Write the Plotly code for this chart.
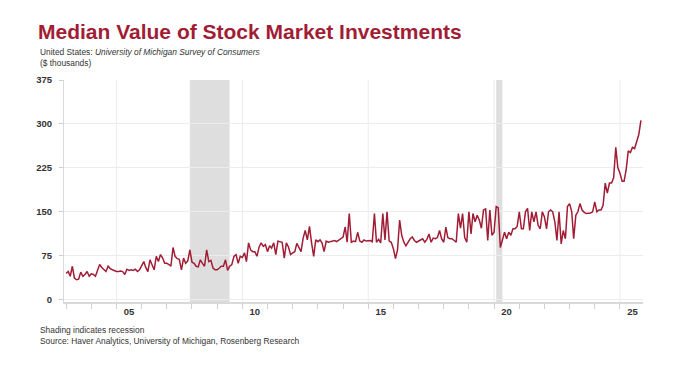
import plotly.graph_objects as go
import pandas as pd

# ---- data (monthly, $ thousands) ----
start_month = "2003-01-01"
v2003 = [45, 48, 40, 57, 37, 34, 35, 47, 40, 43, 48, 40]
v2004 = [44, 43, 40, 49, 60, 55, 51, 48, 57, 53, 51, 49]
v2005 = [48, 48, 49, 48, 43, 52, 50, 51, 50, 52, 48, 51]
v2006 = [57, 65, 55, 48, 68, 60, 51, 74, 65, 77, 71, 62]
v2007 = [62, 60, 57, 89, 74, 70, 69, 51, 71, 62, 66, 85]
v2008 = [64, 62, 57, 56, 68, 62, 57, 85, 65, 67, 54, 51]
v2009 = [51, 54, 57, 57, 68, 50, 57, 60, 74, 77, 62, 74]
v2010 = [72, 80, 65, 97, 85, 82, 82, 74, 90, 97, 91, 94]
v2011 = [82, 92, 88, 97, 77, 100, 99, 98, 71, 97, 90, 77]
v2012 = [80, 82, 96, 90, 82, 105, 118, 102, 125, 97, 74, 102]
v2013 = [99, 102, 97, 82, 100, 98, 99, 100, 101, 99, 102, 104]
v2014 = [107, 124, 98, 147, 98, 100, 99, 115, 100, 98, 102, 100]
v2015 = [100, 101, 99, 147, 98, 103, 97, 147, 102, 150, 100, 98]
v2016 = [87, 70, 85, 136, 110, 98, 92, 98, 104, 107, 101, 98]
v2017 = [100, 101, 104, 98, 103, 112, 98, 105, 104, 106, 118, 104]
v2018 = [98, 124, 106, 104, 104, 101, 98, 147, 122, 147, 106, 98]
v2019 = [150, 112, 147, 133, 144, 136, 122, 153, 155, 101, 153, 110]
v2020 = [115, 159, 157, 89, 104, 115, 104, 115, 110, 121, 121, 125]
v2021 = [150, 121, 121, 150, 156, 118, 150, 133, 150, 127, 121, 150]
v2022 = [141, 121, 150, 153, 150, 133, 101, 150, 95, 118, 104, 159]
v2023 = [164, 150, 104, 144, 150, 164, 153, 149, 147, 147, 148, 150]
v2024 = [167, 150, 153, 153, 161, 199, 182, 199, 199, 208, 260, 225]
v2025 = [216, 202, 202, 222, 254, 251, 260, 258, 271, 282, 306]

values = (v2003 + v2004 + v2005 + v2006 + v2007 + v2008 + v2009 + v2010 + v2011
          + v2012 + v2013 + v2014 + v2015 + v2016 + v2017 + v2018 + v2019 + v2020
          + v2021 + v2022 + v2023 + v2024 + v2025)
dates = pd.date_range(start_month, periods=len(values), freq="MS")

recessions = [("2007-12-01", "2009-06-30"), ("2020-02-01", "2020-04-30")]
label_years = [2005, 2010, 2015, 2020, 2025]
label_text = ["05", "10", "15", "20", "25"]
y_ticks = [0, 75, 150, 225, 300, 375]

RED = "#a11d35"
FONT = "Liberation Sans, Arial, sans-serif"

# the page body has an 8px margin, so the figure is laid out in a 672x375 box
W, H = 672, 375
L, T, R, B = 56, 72, 37, 81
PW, PH = W - L - R, H - T - B


def px_x(x):  # page x -> paper x
    return (x - 8 - L) / PW


def px_y(y):  # page y -> paper y
    return (H - B - (y - 8)) / PH


fig = go.Figure()
fig.add_trace(go.Scatter(x=dates, y=values, mode="lines",
                         line=dict(color=RED, width=1.5), hoverinfo="x+y",
                         showlegend=False))

shapes = []
for a, b in recessions:
    shapes.append(dict(type="rect", xref="x", yref="paper", x0=a, x1=b, y0=0, y1=1,
                       fillcolor="#dedede", line=dict(width=0), layer="below"))
for yr in label_years:
    shapes.append(dict(type="line", xref="x", yref="paper", x0=f"{yr}-01-01",
                       x1=f"{yr}-01-01", y0=0, y1=1,
                       line=dict(color="#ececec", width=1), layer="below"))

note_font = dict(size=8.4, color="#333", family=FONT)

fig.update_layout(
    width=W, height=H,
    margin=dict(l=L, r=R, t=T, b=B),
    paper_bgcolor="white", plot_bgcolor="white",
    font=dict(family=FONT, color="#333"),
    shapes=shapes,
    title=dict(text="<b>Median Value of Stock Market Investments</b>",
               font=dict(family=FONT, size=21, color=RED),
               x=(38 - 8) / W, xanchor="left", xref="container",
               y=1 - (32 - 8) / H, yanchor="middle", yref="container"),
    xaxis=dict(
        type="date",
        range=["2002-12-01", "2025-12-01"],
        tickvals=[f"{y}-07-01" for y in label_years],
        ticktext=label_text,
        ticks="", showgrid=False,
        tickfont=dict(size=9.5, color="#333", family=FONT, weight="bold"),
        showline=True, linecolor="#d9d9d9", linewidth=2,
        minor=dict(dtick="M12", tick0="2003-01-01", ticks="outside", ticklen=5,
                   tickcolor="#d0d0d0", showgrid=False),
        zeroline=False,
    ),
    yaxis=dict(
        range=[-4, 375],
        tickvals=y_ticks,
        ticks="outside", ticklen=4, tickcolor="#cccccc",
        tickfont=dict(size=9.5, color="#333", family=FONT, weight="bold"),
        showgrid=True, gridcolor="#ececec", gridwidth=1,
        showline=True, linecolor="#d9d9d9", linewidth=1,
        zeroline=False,
        ticklabelstandoff=5,
    ),
    annotations=[
        dict(text="United States: <i>University of Michigan Survey of Consumers</i>",
             xref="paper", yref="paper", x=px_x(38), y=px_y(52),
             xanchor="left", yanchor="middle", showarrow=False, font=note_font),
        dict(text="($ thousands)",
             xref="paper", yref="paper", x=px_x(38), y=px_y(63),
             xanchor="left", yanchor="middle", showarrow=False, font=note_font),
        dict(text="Shading indicates recession",
             xref="paper", yref="paper", x=px_x(38), y=px_y(330),
             xanchor="left", yanchor="middle", showarrow=False, font=note_font),
        dict(text="Source: Haver Analytics, University of Michigan, Rosenberg Research",
             xref="paper", yref="paper", x=px_x(38), y=px_y(341),
             xanchor="left", yanchor="middle", showarrow=False, font=note_font),
    ],
)

fig.write_html("out.html")
